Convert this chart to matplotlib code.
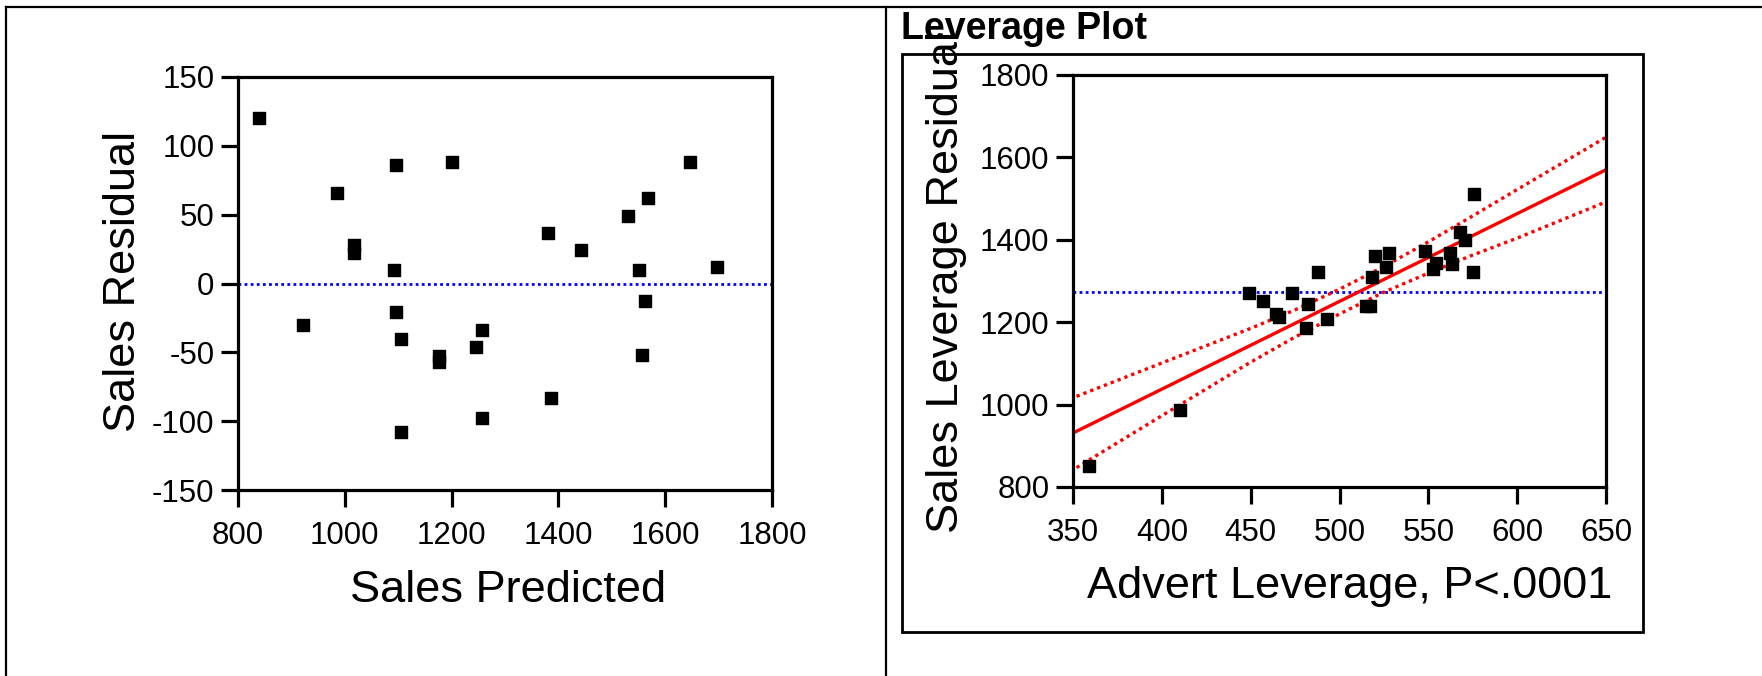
import matplotlib
matplotlib.use("Agg")
import matplotlib.pyplot as plt
from matplotlib.patches import Rectangle

plt.rcParams['font.family'] = ['Liberation Sans', 'DejaVu Sans']
plt.rcParams['axes.unicode_minus'] = False

# residual plot (left)
sales_pred = [840, 921, 986, 1017, 1017, 1096, 1092, 1096, 1106, 1106, 1201, 1176, 1176,
              1246, 1257, 1257, 1381, 1387, 1442, 1531, 1567, 1551, 1562, 1557, 1647, 1697]
sales_resid = [120, -30, 66, 28, 22, 86, 10, -21, -40, -108, 88, -53, -57,
               -46, -34, -98, 37, -83, 24, 49, 62, 10, -13, -52, 88, 12]
resid_xticks = [800, 1000, 1200, 1400, 1600, 1800]
resid_yticks = [-150, -100, -50, 0, 50, 100, 150]

# leverage plot (right)
advert_lev = [359, 410, 449, 457, 464, 466, 473, 482, 488, 481, 493, 515, 517,
              518.5, 520, 526, 527.6, 548, 552.7, 554.5, 562, 563.4, 567.8, 570.8, 575.3, 575.5]
sales_lev = [850, 988, 1270, 1252, 1219, 1212, 1270, 1245, 1323, 1187, 1207, 1239, 1240,
             1309, 1361, 1335, 1368, 1374, 1329, 1344, 1368, 1342, 1420, 1400, 1323, 1510]
fit_x = [350, 650]
fit_y = [931, 1570]
band_x = [352, 400, 425, 450, 475, 500, 525, 550, 575, 600, 650]
band_hi = [1020, 1101, 1143, 1185, 1230, 1280, 1335, 1395, 1458, 1522, 1649]
band_lo = [847, 973, 1038, 1103, 1164, 1220, 1273, 1319, 1363, 1404, 1492]
mean_sales = 1274
lev_xticks = [350, 400, 450, 500, 550, 600, 650]
lev_yticks = [800, 1000, 1200, 1400, 1600, 1800]

W, H = 1762, 676
fig = plt.figure(figsize=(W / 100, H / 100), dpi=100)

# overlay in pixel coords for the page frame
bg = fig.add_axes([0, 0, 1, 1])
bg.set_xlim(0, W)
bg.set_ylim(H, 0)
bg.axis('off')
bg.plot([6, W], [7, 7], color='black', lw=1.6)
bg.plot([6, 6], [7, H], color='black', lw=1.6)
bg.plot([886, 886], [7, H], color='black', lw=1.6)
box = Rectangle((902, 54), 741, 578, fill=False, edgecolor='black', lw=2.0)
bg.add_patch(box)
bg.text(901, 39, 'Leverage Plot', fontsize=27, fontweight='bold',
        ha='left', va='baseline')


def style_axes(ax):
    for sp in ax.spines.values():
        sp.set_linewidth(2.3)
    ax.tick_params(direction='out', length=12, width=2.3, labelsize=22.5)
    ax.tick_params(axis='x', pad=10)
    ax.tick_params(axis='y', pad=5)


ax1 = fig.add_axes([238 / W, 1 - 490 / H, 534 / W, 413 / H])
ax1.scatter(sales_pred, sales_resid, marker='s', s=75, color='black', zorder=3)
ax1.axhline(0, color='#0000ff', lw=2.0, linestyle=(0, (1, 1.2)))
ax1.set_xlim(800, 1800)
ax1.set_ylim(-150, 150)
ax1.set_xticks(resid_xticks)
ax1.set_yticks(resid_yticks)
style_axes(ax1)
bg.text(508, 602, 'Sales Predicted', fontsize=32.5, ha='center', va='baseline')
bg.text(135, 281, 'Sales Residual', fontsize=32.5, rotation=90,
        rotation_mode='anchor', ha='center', va='baseline')

ax2 = fig.add_axes([1073 / W, 1 - 487 / H, 533 / W, 412 / H])
ax2.scatter(advert_lev, sales_lev, marker='s', s=75, color='black', zorder=3)
ax2.axhline(mean_sales, color='#0000ff', lw=2.0, linestyle=(0, (1, 1.2)))
ax2.plot(fit_x, fit_y, color='#ff0000', lw=2.4)
ax2.plot(band_x, band_hi, color='#ff0000', lw=2.4, linestyle=(0, (1, 1.2)))
ax2.plot(band_x, band_lo, color='#ff0000', lw=2.4, linestyle=(0, (1, 1.2)))
ax2.set_xlim(350, 650)
ax2.set_ylim(800, 1800)
ax2.set_xticks(lev_xticks)
ax2.set_yticks(lev_yticks)
style_axes(ax2)
bg.text(1350, 598, 'Advert Leverage, P<.0001', fontsize=32.5, ha='center', va='baseline')
ylab = bg.text(958, 282, 'Sales Leverage Residual', fontsize=32.5, rotation=90,
               rotation_mode='anchor', ha='center', va='baseline')
ylab.set_clip_path(box)

fig.savefig('out.png', dpi=100)
